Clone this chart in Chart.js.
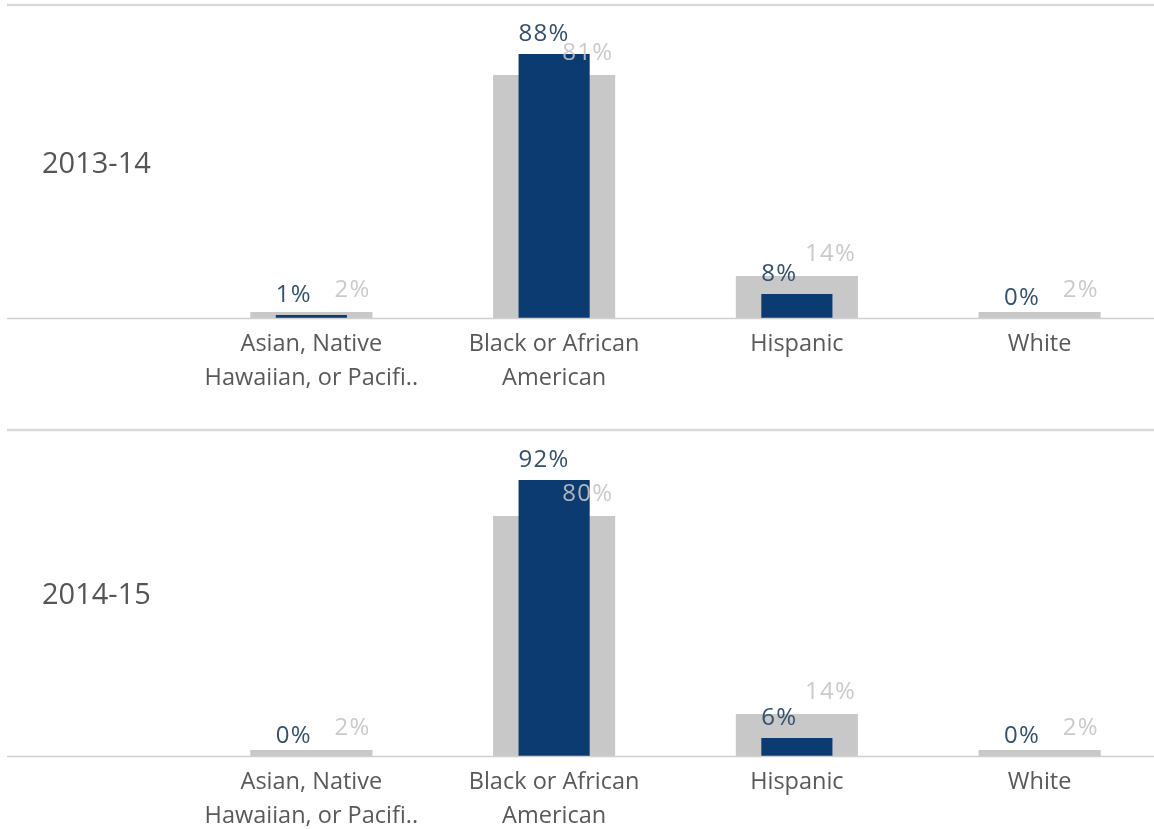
<!DOCTYPE html>
<html>
<head>
<meta charset="utf-8">
<script src="https://cdn.jsdelivr.net/npm/chart.js@4"></script>
<style>
  html, body { margin: 0; padding: 0; background: #fff; overflow: hidden; width: 1154px; height: 829px; }
  .panel { position: absolute; left: 0; width: 1161px; }
  #p1 { top: 0; height: 418px; }
  #p2 { top: 420px; height: 436px; }
</style>
</head>
<body>
<div class="panel" id="p1"><canvas id="c1"></canvas></div>
<div class="panel" id="p2"><canvas id="c2"></canvas></div>
<script>
// ---- data ----
const categories = [
  ['Asian, Native', 'Hawaiian, or Pacifi..'],
  ['Black or African', 'American'],
  ['Hispanic'],
  ['White']
];
const years = ['2013-14', '2014-15'];
const school2013 = [1, 88, 8, 0];
const compare2013 = [2, 81, 14, 2];
const school2014 = [0, 92, 6, 0];
const compare2014 = [2, 80, 14, 2];

const NAVY = '#0b3b70';
const GRAY = '#c8c8c8';
const FONT = '"Open Sans", "Noto Sans", sans-serif';

const panelPlugin = {
  id: 'panelDeco',
  beforeDraw(chart, args, opts) {
    const ctx = chart.ctx;
    const w = chart.width;
    const area = chart.chartArea;
    ctx.save();
    // separator
    ctx.strokeStyle = '#d9d9d9';
    ctx.lineWidth = 2.5;
    ctx.beginPath();
    ctx.moveTo(7, opts.sepY);
    ctx.lineTo(w, opts.sepY);
    ctx.stroke();
    // row label
    ctx.fillStyle = '#555555';
    ctx.font = '29px ' + FONT;
    ctx.textAlign = 'left';
    ctx.textBaseline = 'middle';
    ctx.fillText(opts.label, 42, (opts.sepY + area.bottom) / 2 + 3);
    ctx.restore();
  },
  afterDatasetsDraw(chart, args, opts) {
    const ctx = chart.ctx;
    const area = chart.chartArea;
    ctx.save();
    // baseline
    ctx.strokeStyle = '#d0d0d0';
    ctx.lineWidth = 1.5;
    ctx.beginPath();
    ctx.moveTo(7, area.bottom + 0.5);
    ctx.lineTo(chart.width, area.bottom + 0.5);
    ctx.stroke();
    ctx.font = '24px ' + FONT;
    if ('letterSpacing' in ctx) ctx.letterSpacing = '1.2px';
    ctx.textBaseline = 'alphabetic';
    // comparison labels (gray), right-aligned at gray bar right edge
    const m1 = chart.getDatasetMeta(1);
    const d1 = chart.data.datasets[1].data;
    ctx.fillStyle = 'rgba(196,196,196,0.9)';
    ctx.textAlign = 'right';
    m1.data.forEach((bar, i) => {
      ctx.fillText(d1[i] + '%', bar.x + bar.width / 2 - 2, bar.y - 15);
    });
    // school labels (navy), left-aligned at navy bar left edge
    const m0 = chart.getDatasetMeta(0);
    const d0 = chart.data.datasets[0].data;
    ctx.fillStyle = '#34506f';
    ctx.textAlign = 'left';
    m0.data.forEach((bar, i) => {
      ctx.fillText(d0[i] + '%', bar.x - bar.width / 2, bar.y - 13);
    });
    ctx.restore();
  }
};

function makeChart(id, label, school, compare, padTop, sepY) {
  return new Chart(document.getElementById(id), {
    type: 'bar',
    data: {
      labels: categories,
      datasets: [
        { label: 'School', data: school, backgroundColor: NAVY,
          categoryPercentage: 1, barPercentage: 0.293, grouped: false },
        { label: 'Comparison', data: compare, backgroundColor: GRAY,
          categoryPercentage: 1, barPercentage: 0.503, grouped: false }
      ]
    },
    options: {
      responsive: true,
      maintainAspectRatio: false,
      animation: false,
      events: [],
      layout: { padding: { top: padTop, left: 190, right: 0, bottom: 0 } },
      plugins: {
        legend: { display: false },
        tooltip: { enabled: false },
        panelDeco: { label: label, sepY: sepY }
      },
      scales: {
        x: {
          grid: { display: false, drawTicks: false },
          border: { display: false },
          ticks: {
            color: '#595959',
            padding: 10,
            maxRotation: 0,
            autoSkip: false,
            font: { family: FONT, size: 23.5, lineHeight: 1.43 }
          },
          afterFit(scale) { scale.height = 100; }
        },
        y: {
          display: false,
          min: 0,
          max: 100
        }
      }
    },
    plugins: [panelPlugin]
  });
}

makeChart('c1', years[0], school2013, compare2013, 18, 5);
makeChart('c2', years[1], school2014, compare2014, 36, 10);
</script>
</body>
</html>
